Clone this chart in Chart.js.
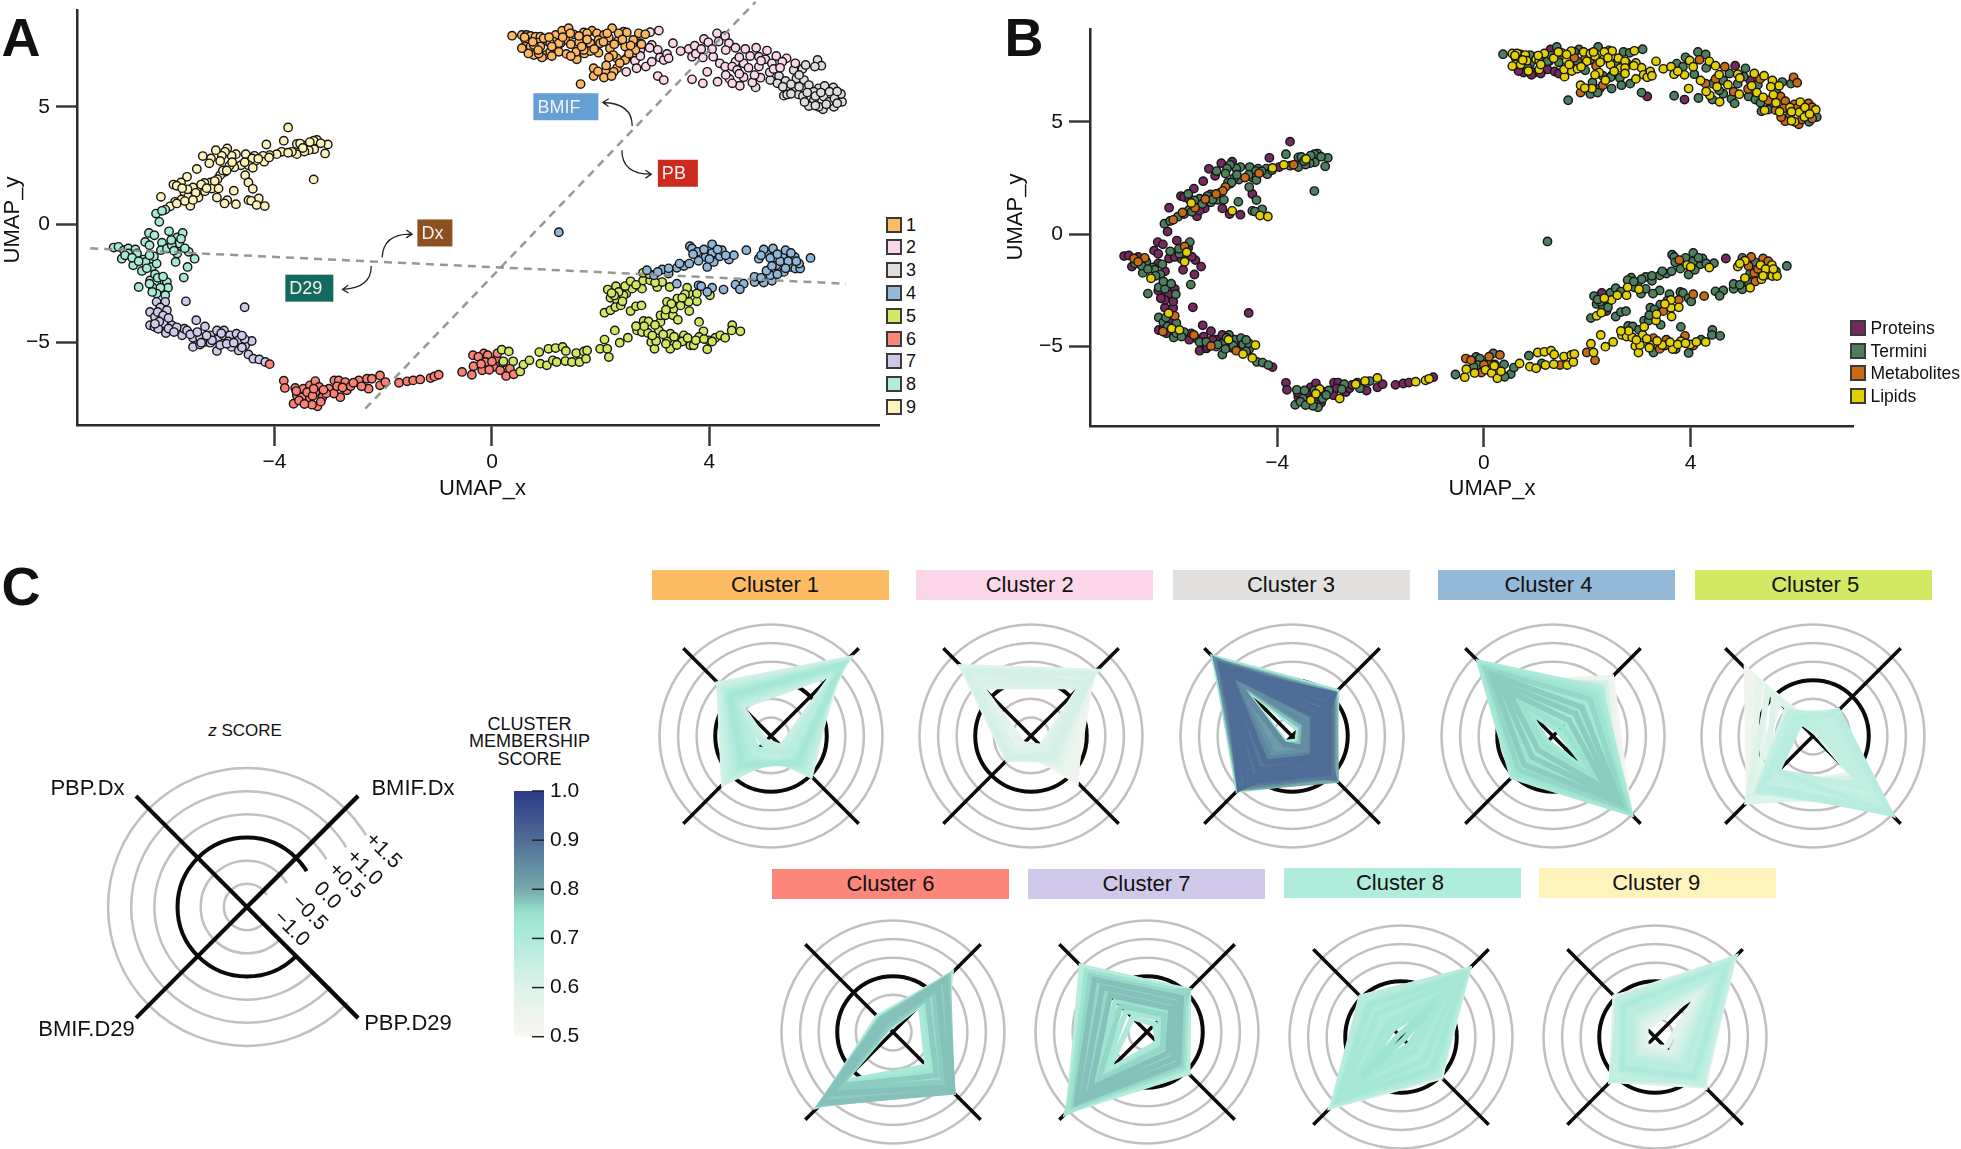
<!DOCTYPE html>
<html>
<head>
<meta charset="utf-8">
<title>UMAP clusters</title>
<script src="https://cdn.jsdelivr.net/npm/chart.js@4"></script>
<style>
  html, body { margin: 0; background: #fff; }
  body { position: relative; width: 1961px; height: 1149px; overflow: hidden; font-family: "Liberation Sans", Arial, sans-serif; color: #111; }
  canvas { position: absolute; }
  .txt { position: absolute; white-space: nowrap; transform: translate(-50%, -50%); }
  .swatch { position: absolute; box-sizing: border-box; width: 16px; height: 16px; border: 2.5px solid #3a3a3a; }
  .head { position: absolute; display: flex; align-items: center; justify-content: center; font-size: 22px; }
</style>
</head>
<body>
<script>
// every point: [UMAP_x, UMAP_y, omics type]  type: 0 Proteins, 1 Termini, 2 Metabolites, 3 Lipids
const cluster1 = [[0.37,8.01,1],[0.55,8.04,3],[0.64,8.04,3],[0.71,8.0,1],[0.61,7.86,3],[0.80,7.97,3],[0.89,7.97,1],[1.01,7.80,3],[1.17,8.04,3],[1.29,8.22,0],[1.41,8.33,1],[1.50,8.07,3],[1.69,8.15,3],[1.84,8.22,1],[1.93,8.11,3],[2.21,8.33,1],[2.06,8.04,3],[2.15,7.93,3],[2.42,8.18,1],[2.48,8.15,3],[2.70,8.11,1],[2.82,8.07,1],[2.60,7.83,3],[2.32,7.80,3],[1.96,7.83,2],[1.81,7.69,1],[1.60,7.73,3],[1.35,7.83,3],[1.13,7.76,1],[0.83,7.72,3],[0.61,7.55,3],[0.71,7.55,3],[0.55,7.48,3],[0.77,7.19,0],[0.98,7.19,0],[0.92,7.09,0],[1.07,7.33,3],[1.23,7.33,0],[1.37,7.24,0],[1.56,7.01,3],[1.55,7.33,3],[1.70,7.26,3],[1.81,7.36,3],[1.96,7.29,1],[2.17,7.48,2],[2.30,7.05,1],[2.45,7.55,3],[2.64,7.40,3],[2.47,7.05,0],[2.23,7.19,3],[2.15,7.09,3],[1.87,6.63,3],[2.09,6.48,3],[2.06,6.24,1],[1.87,6.30,2],[2.30,6.63,2],[2.24,6.48,1],[2.45,6.98,1],[1.63,5.96,1],[0.89,7.55,1],[1.07,7.69,3],[1.26,7.69,1],[1.44,8.11,3],[0.77,7.62,0],[1.75,8.11,1],[2.12,8.11,3],[2.33,8.11,3],[1.69,7.40,2],[1.99,7.69,3],[0.86,7.26,3],[0.67,7.26,0],[1.23,7.69,1],[2.75,7.65,2],[0.60,7.95,3],[0.75,7.75,3],[0.95,7.90,0],[1.05,7.95,3],[1.10,7.55,3],[1.30,7.95,1],[1.45,7.65,1],[1.60,8.0,3],[1.75,7.85,2],[1.88,7.45,3],[2.05,7.75,1],[2.25,7.65,3],[2.40,7.85,3],[2.55,7.60,1],[2.52,7.25,3],[0.85,7.40,1],[1.10,7.15,0],[1.45,7.15,0],[1.65,7.55,3],[2.10,6.75,1],[1.95,6.50,3],[2.20,6.30,1],[2.35,6.85,3]];
const cluster2 = [[3.07,8.23,1],[2.91,8.16,3],[2.73,7.69,3],[2.94,7.62,3],[3.05,7.41,3],[2.90,7.50,3],[2.73,7.40,3],[2.63,6.95,1],[2.73,7.15,3],[2.83,6.70,1],[2.94,6.91,3],[3.09,7.09,3],[3.16,6.98,3],[3.22,7.24,3],[3.33,7.69,3],[3.47,7.36,3],[3.62,7.45,3],[3.73,7.59,1],[3.90,7.87,1],[3.98,7.73,3],[4.14,8.11,1],[4.29,8.0,1],[4.17,7.76,2],[4.36,7.69,3],[4.48,7.50,3],[4.66,7.45,2],[4.86,7.50,0],[5.06,7.38,1],[4.91,7.12,3],[5.03,7.01,1],[5.23,7.15,3],[5.42,7.05,3],[5.58,6.84,3],[3.68,7.12,3],[3.88,7.09,3],[4.07,7.12,1],[4.19,6.84,3],[4.29,6.70,2],[4.48,6.91,2],[4.63,6.84,1],[4.42,6.70,1],[4.51,6.56,3],[4.91,6.70,1],[3.96,6.48,3],[4.63,6.25,1],[4.37,6.18,3],[4.56,5.89,3],[4.15,6.06,1],[3.88,5.99,0],[3.68,6.16,1],[4.42,5.99,1],[4.79,6.03,1],[4.94,6.23,3],[4.83,6.34,2],[5.11,6.46,2],[3.05,6.30,1],[3.16,6.13,0],[2.47,6.48,1],[2.66,6.63,1],[5.15,6.84,0],[5.34,6.91,2],[3.25,7.05,3],[3.75,7.25,3],[3.85,7.45,1],[4.05,7.45,3],[4.30,7.40,1],[4.55,7.10,3],[4.72,6.65,3],[4.30,6.35,3],[4.75,7.15,1],[4.95,6.95,3],[5.18,6.60,3],[5.30,6.65,1],[4.55,6.40,1]];
const cluster3 = [[5.99,6.98,2],[6.06,6.74,2],[5.94,6.70,1],[5.71,6.60,3],[5.77,6.77,1],[5.55,6.56,3],[5.28,6.30,3],[5.12,6.13,1],[5.40,6.09,3],[5.25,5.99,1],[5.60,6.20,3],[5.74,6.13,2],[5.83,5.92,2],[4.85,5.82,1],[5.56,5.74,1],[5.37,5.47,1],[5.43,5.52,3],[5.64,5.52,2],[5.72,5.45,3],[5.92,5.28,2],[5.83,5.03,2],[6.01,5.78,2],[6.10,5.43,3],[6.12,5.88,3],[6.28,5.82,2],[6.21,5.64,3],[6.29,5.0,1],[6.09,4.89,2],[6.01,5.0,3],[6.44,5.21,1],[6.42,5.54,3],[6.20,5.21,3],[5.92,5.64,3],[5.50,5.95,2],[5.65,5.85,3],[5.80,5.60,2],[5.95,5.45,3],[5.75,5.20,2],[5.95,5.05,3],[6.15,5.10,2],[6.30,5.35,3],[6.05,5.60,2],[6.35,5.65,2],[5.50,5.55,1],[5.35,5.85,1],[5.65,6.35,1],[6.35,5.15,2]];
const cluster4 = [[1.23,-0.32,1],[2.85,-1.93,1],[2.98,-2.14,1],[3.13,-1.90,1],[3.25,-2.07,1],[3.40,-1.83,1],[3.53,-1.75,1],[3.63,-1.65,1],[3.40,-2.50,1],[3.64,-0.91,1],[3.68,-1.01,1],[3.78,-1.15,2],[4.05,-0.83,1],[3.93,-1.37,3],[3.80,-1.53,1],[3.96,-1.79,1],[4.08,-1.58,1],[4.19,-1.34,1],[4.23,-1.08,1],[4.36,-1.48,3],[4.45,-1.29,1],[4.68,-1.08,0],[3.80,-2.57,1],[3.85,-2.61,1],[4.05,-2.67,2],[3.96,-2.85,1],[4.26,-2.75,2],[4.48,-2.54,1],[4.63,-2.50,1],[4.56,-2.74,1],[4.83,-2.43,1],[4.83,-2.21,1],[5.0,-2.45,1],[5.15,-2.38,3],[5.12,-2.14,1],[5.23,-1.72,2],[5.37,-2.0,3],[5.49,-1.79,3],[5.58,-1.86,3],[5.67,-1.86,3],[4.91,-1.44,3],[5.05,-1.18,3],[5.0,-1.05,1],[5.17,-1.01,2],[5.12,-1.41,2],[5.35,-1.37,3],[5.40,-1.08,2],[5.57,-1.37,3],[5.65,-1.65,1],[5.86,-1.41,1],[3.70,-1.25,1],[3.90,-1.05,1],[4.05,-1.20,1],[4.00,-1.45,3],[4.30,-1.30,1],[4.15,-1.05,1],[3.45,-1.65,1],[3.05,-2.00,1],[3.25,-1.85,1],[4.95,-2.25,1],[5.05,-1.95,3],[5.25,-2.10,2],[5.30,-1.55,2],[5.45,-1.55,3],[5.25,-1.25,1],[5.50,-1.20,2],[4.95,-1.30,3],[5.15,-1.75,1],[5.60,-1.55,3],[5.40,-1.85,3]];
const cluster5 = [[0.18,-5.30,1],[0.31,-5.37,2],[0.21,-5.79,3],[0.39,-5.79,1],[0.52,-6.22,1],[0.58,-5.93,1],[0.69,-5.75,3],[0.87,-5.40,1],[0.89,-5.89,3],[1.01,-5.96,3],[1.12,-5.75,1],[1.04,-5.26,3],[1.17,-5.23,3],[1.19,-5.82,3],[1.30,-5.18,3],[1.36,-5.35,3],[1.35,-5.78,3],[1.47,-5.82,2],[1.55,-5.44,3],[1.61,-5.82,3],[1.69,-5.37,3],[1.73,-5.68,3],[1.75,-5.33,3],[1.99,-5.26,2],[2.12,-5.26,3],[2.15,-5.61,2],[2.07,-4.87,3],[2.26,-4.48,3],[2.35,-5.0,3],[2.50,-4.79,3],[2.67,-4.48,3],[2.76,-4.55,3],[2.79,-4.08,1],[2.88,-4.10,1],[2.87,-4.59,3],[2.93,-4.97,3],[2.99,-5.26,3],[3.02,-4.93,3],[3.07,-4.48,3],[3.10,-4.12,3],[3.22,-4.93,3],[3.28,-4.62,2],[3.28,-5.26,1],[3.45,-4.93,3],[3.53,-4.69,2],[3.65,-5.11,3],[3.71,-5.11,1],[3.81,-4.12,1],[3.89,-4.52,2],[3.81,-4.76,3],[3.96,-5.28,1],[3.99,-4.90,3],[4.11,-4.79,3],[4.20,-4.69,1],[4.29,-4.79,3],[4.42,-4.26,1],[4.41,-4.48,1],[4.57,-4.52,1],[3.10,-3.84,1],[3.19,-3.84,1],[3.33,-3.84,3],[3.42,-4.03,1],[3.22,-3.27,1],[3.34,-3.56,3],[3.41,-3.13,1],[3.47,-3.42,2],[3.62,-3.27,3],[3.63,-3.66,3],[3.77,-3.25,3],[3.62,-2.92,3],[3.77,-2.92,2],[3.59,-2.67,1],[4.01,-2.99,1],[2.13,-2.75,1],[2.28,-2.61,0],[2.18,-3.10,1],[2.07,-3.73,1],[2.18,-3.63,3],[2.30,-3.20,1],[2.27,-3.49,3],[2.37,-3.42,0],[2.55,-3.66,1],[2.47,-2.92,3],[2.58,-2.71,3],[2.65,-3.46,1],[2.75,-3.42,1],[2.76,-2.71,3],[2.78,-2.36,3],[2.78,-2.04,1],[2.91,-2.36,1],[3.04,-2.64,1],[3.13,-2.43,1],[3.27,-2.64,1],[2.42,-2.99,1],[2.33,-2.85,3],[2.95,-4.70,3],[3.15,-4.65,3],[3.35,-4.75,3],[3.50,-4.95,2],[3.60,-4.80,3],[3.75,-4.90,3],[3.90,-4.85,3],[4.05,-4.95,2],[3.20,-5.05,3],[3.40,-5.10,2],[2.80,-4.30,3],[3.00,-4.25,1],[2.65,-4.30,3],[3.55,-2.95,1],[3.50,-3.10,3],[3.30,-3.35,1],[3.20,-3.60,1],[2.45,-2.60,1],[2.55,-2.40,1],[2.65,-2.55,1],[2.90,-2.10,1],[3.00,-2.45,3],[2.25,-3.00,1],[2.40,-3.25,1],[2.20,-2.90,1]];
const cluster6 = [[-4.09,-5.91,0],[-3.83,-6.61,0],[-3.81,-6.92,0],[-3.62,-6.92,1],[-3.65,-7.59,1],[-3.59,-7.23,0],[-3.50,-7.31,1],[-3.47,-6.95,1],[-3.35,-6.81,0],[-3.25,-6.63,0],[-3.18,-6.88,3],[-3.35,-7.38,3],[-3.21,-7.70,1],[-3.12,-7.31,1],[-3.31,-7.63,1],[-3.25,-7.09,3],[-3.0,-6.95,1],[-2.90,-6.60,0],[-2.79,-7.31,3],[-2.91,-7.16,0],[-2.82,-6.60,0],[-2.70,-6.67,1],[-2.67,-7.02,0],[-2.48,-6.67,3],[-2.45,-6.60,0],[-2.30,-6.53,3],[-2.21,-6.53,1],[-2.27,-6.95,0],[-2.06,-6.39,3],[-2.06,-6.81,0],[-1.96,-6.67,0],[-1.71,-6.70,0],[-1.56,-6.64,0],[-1.45,-6.60,0],[-1.32,-6.56,3],[-1.13,-6.50,3],[-1.06,-6.43,3],[-0.98,-6.36,0],[-0.55,-6.24,1],[-0.37,-6.36,3],[-0.35,-5.53,2],[-0.34,-6.0,3],[-0.18,-6.17,3],[-0.15,-5.46,1],[-0.08,-5.53,1],[-0.12,-5.82,1],[0.03,-6.03,3],[0.15,-6.17,3],[0.09,-5.68,2],[0.26,-6.41,3],[0.33,-6.10,3],[0.40,-6.34,1],[-3.55,-7.45,1],[-3.40,-7.10,0],[-3.30,-7.25,0],[-3.15,-7.50,0],[-3.05,-7.15,1],[-3.45,-7.60,1],[-3.60,-7.05,0],[-3.28,-6.95,1],[-3.10,-7.00,0],[-2.85,-6.85,0],[-2.60,-6.85,0],[-2.55,-6.70,0],[-2.40,-6.85,1],[-2.75,-6.90,1],[-0.25,-5.60,2],[-0.20,-5.90,1],[0.0,-5.80,2],[0.20,-5.85,3],[-0.05,-6.15,2],[0.10,-5.45,2]];
const cluster7 = [[-5.63,-3.25,0],[-4.55,-3.50,0],[-6.17,-3.27,0],[-6.01,-3.27,0],[-6.29,-3.70,1],[-6.10,-3.51,3],[-5.98,-3.63,2],[-6.20,-3.91,1],[-6.29,-4.26,0],[-6.21,-4.33,2],[-6.04,-4.19,3],[-5.89,-4.26,3],[-6.0,-4.59,1],[-6.14,-4.41,0],[-5.70,-4.69,0],[-5.66,-4.41,0],[-5.44,-4.05,0],[-5.28,-4.31,0],[-5.61,-4.48,2],[-5.50,-4.79,1],[-5.50,-5.18,0],[-5.37,-4.79,1],[-5.28,-4.97,2],[-5.18,-4.69,0],[-5.06,-5.35,1],[-5.06,-4.48,0],[-4.93,-4.48,1],[-5.05,-4.87,1],[-4.94,-4.69,3],[-4.82,-4.69,1],[-4.70,-4.62,1],[-4.79,-5.18,2],[-4.66,-4.90,1],[-4.54,-5.11,1],[-4.42,-4.93,3],[-4.66,-5.33,3],[-4.48,-5.50,3],[-4.39,-5.68,1],[-4.28,-5.71,1],[-4.17,-5.82,1],[-5.18,-5.0,1],[-5.37,-5.08,0],[-6.15,-3.70,1],[-6.05,-3.85,0],[-5.95,-3.95,1],[-6.12,-4.10,1],[-6.20,-4.20,0],[-5.95,-4.40,1],[-5.80,-4.35,1],[-5.85,-4.55,1],[-5.55,-4.65,0],[-5.42,-4.55,0],[-5.35,-5.00,0],[-5.15,-4.90,1],[-5.00,-5.10,1],[-4.85,-4.95,1],[-4.88,-5.05,0],[-4.60,-5.20,1],[-4.75,-5.00,0],[-4.55,-4.85,1],[-5.25,-4.70,0],[-4.98,-4.60,1],[-4.60,-4.70,1]];
const cluster8 = [[-6.96,-0.97,0],[-6.87,-0.94,0],[-6.77,-1.08,2],[-6.69,-1.01,0],[-6.56,-1.05,2],[-6.81,-1.44,0],[-6.69,-1.22,2],[-6.53,-1.22,1],[-6.60,-1.72,1],[-6.41,-1.48,1],[-6.44,-1.96,3],[-6.37,-1.58,1],[-6.26,-1.79,1],[-6.17,-1.65,0],[-6.22,-1.34,1],[-6.31,-0.35,0],[-6.21,-0.45,0],[-6.38,-0.73,0],[-6.30,-0.87,0],[-5.94,-0.28,0],[-6.07,-0.76,1],[-6.09,-1.08,0],[-5.98,-1.01,0],[-5.79,-0.54,2],[-5.69,-0.35,1],[-5.75,-0.80,3],[-5.89,-0.87,1],[-5.79,-1.22,3],[-5.58,-1.15,0],[-5.47,-1.44,0],[-5.82,-1.58,0],[-5.60,-1.79,0],[-5.67,-2.24,1],[-6.29,-2.36,1],[-5.98,-2.43,0],[-6.17,-2.43,1],[-6.50,-2.64,1],[-6.24,-2.67,0],[-5.96,-2.67,1],[-6.10,-2.67,0],[-6.17,-2.92,0],[-6.01,-2.99,0],[-6.18,0.47,1],[-6.01,0.64,2],[-6.12,0.12,0],[-6.07,0.59,1],[-6.75,-1.30,1],[-6.62,-1.40,1],[-6.50,-1.55,1],[-6.30,-1.30,0],[-6.35,-1.85,1],[-6.20,-2.10,1],[-6.15,-2.25,0],[-6.05,-2.20,1],[-6.30,-2.50,0],[-6.25,-2.85,0],[-5.90,-0.65,1],[-5.85,-1.10,0],[-5.65,-1.00,0],[-5.72,-0.60,0]];
const cluster9 = [[-3.75,4.12,0],[-3.83,3.56,1],[-4.15,3.40,0],[-3.22,3.59,1],[-3.28,3.56,1],[-3.02,3.40,1],[-3.07,3.02,1],[-3.44,3.35,3],[-3.59,3.42,1],[-3.53,3.44,1],[-3.27,3.20,1],[-3.37,3.16,1],[-3.59,2.99,1],[-3.68,3.09,2],[-3.87,3.09,3],[-3.96,2.99,0],[-4.09,2.95,3],[-4.21,2.92,1],[-4.19,2.67,1],[-4.37,2.92,1],[-4.53,2.99,1],[-4.35,2.71,2],[-4.41,2.81,1],[-4.48,2.52,1],[-4.40,2.41,1],[-4.62,2.52,2],[-4.74,2.43,1],[-4.83,2.50,1],[-4.71,2.99,1],[-4.79,2.92,1],[-4.87,3.23,0],[-4.91,3.09,1],[-4.97,2.92,1],[-5.08,3.16,0],[-5.17,2.81,1],[-5.32,2.91,0],[-5.20,2.60,0],[-5.43,2.36,0],[-4.91,2.24,1],[-5.0,2.10,2],[-5.05,1.93,2],[-5.18,1.79,2],[-5.29,1.77,1],[-5.39,1.56,2],[-5.50,1.58,1],[-5.61,2.03,0],[-5.72,1.79,1],[-5.86,1.70,0],[-5.80,1.65,0],[-5.66,1.39,3],[-5.59,1.18,2],[-5.40,1.15,0],[-5.28,1.42,1],[-5.15,1.53,1],[-5.03,1.53,1],[-5.06,1.15,0],[-4.87,1.04,3],[-4.92,0.90,0],[-4.71,0.87,0],[-4.75,1.44,1],[-4.54,2.10,1],[-4.48,1.79,0],[-4.40,1.52,1],[-4.29,1.11,1],[-4.48,1.04,1],[-4.43,1.01,1],[-4.33,0.83,3],[-4.18,0.79,3],[-3.28,1.92,1],[-6.09,1.18,0],[-5.83,0.97,2],[-5.71,1.07,1],[-5.55,0.80,0],[-5.60,1.50,1],[-5.70,1.55,0],[-5.45,1.35,1],[-5.35,1.70,1],[-5.25,1.55,1],[-5.10,1.85,1],[-4.95,2.30,1],[-4.88,2.30,1],[-4.78,2.65,1],[-4.55,2.65,1],[-4.30,2.80,1],[-4.10,2.85,1],[-3.75,3.05,1],[-3.45,3.10,1],[-3.35,3.50,1],[-3.48,3.25,1],[-3.15,3.45,1],[-5.92,0.78,1],[-5.80,0.90,1],[-5.65,1.00,1],[-5.50,1.05,0],[-5.00,2.70,1]];

const clusterNames = ["1", "2", "3", "4", "5", "6", "7", "8", "9"];
const clusterPoints = [cluster1, cluster2, cluster3, cluster4, cluster5, cluster6, cluster7, cluster8, cluster9];
const omicsNames = ["Proteins", "Termini", "Metabolites", "Lipids"];

const xTicks = [-4, 0, 4];
const yTicks = [-5, 0, 5];

// dashed dividers
const dividerDxX = [-7.39, 6.51], dividerDxY = [-1.0, -2.5];
const dividerBmX = [-2.33, 4.85], dividerBmY = [-7.8, 9.45];

const calloutNames = ["BMIF", "PB", "Dx", "D29"];
const calloutX = [1.36, 3.42, -1.05, -3.36];
const calloutY = [5.0, 2.18, -0.35, -2.69];

// radar axes, clockwise from upper right
const radarAxes = ["BMIF.Dx", "PBP.D29", "BMIF.D29", "PBP.Dx"];
const radarTicks = [-1.5, -1.0, -0.5, 0, 0.5, 1.0, 1.5];
const scoreTicks = [0.5, 0.6, 0.7, 0.8, 0.9, 1.0];

const radar1 = [[1.44,-0.95,0.30,0.48],[1.40,-0.90,0.20,0.40],[1.36,-0.80,0.05,0.30],[1.30,-0.70,-0.10,0.22],[1.25,-0.6,-0.25,0.14],[1.20,-0.5,-0.4,0.05],[1.15,-0.4,-0.55,-0.05],[1.10,-0.3,-0.7,-0.12],[1.05,-0.2,-0.85,-0.2],[1.0,-0.1,-0.95,-0.28],[0.95,0,-0.95,-0.35],[0.9,-1.1,-1.3,-0.38],[1.38,-1.0,-1.2,0.2],[1.1,-0.85,-1.0,0.0],[1.28,-0.35,-0.8,0.35],[1.2,-0.15,-0.9,0.48]];
const score1 = [.62,.64,.66,.68,.70,.72,.70,.69,.67,.66,.62,.64,.66,.68,.60,.58];
const radar2 = [[0.96,-0.95,-0.6,1.13],[0.9,-0.85,-0.7,1.05],[0.85,-0.7,-0.72,0.98],[0.78,-0.55,-0.8,.9],[.7,-.4,-.85,.82],[.62,-.25,-.92,.75],[.55,-.1,-1.0,.66],[.5,.05,-1.05,.58],[.45,.22,-1.1,.5],[.4,-1.1,-1.2,.42],[.38,-1.0,-.9,.38],[.6,-.6,-.62,.55],[.7,-.9,-.75,.7],[.9,-.3,-1.1,.9],[.8,.15,-1.15,1.0],[.5,-.8,-.65,.95]];
const score2 = [.58,.6,.62,.6,.58,.56,.55,.54,.52,.58,.6,.61,.6,.56,.54,.62];
const radar3 = [[.2,.15,.4,1.48],[.18,.1,.55,1.42],[.12,.18,.5,1.35],[.05,.05,.45,1.3],[0,.0,.35,1.25],[-.1,-.1,.25,1.2],[-.2,-.2,.15,1.15],[-.3,-.3,.05,1.1],[-.4,-.4,-.05,1.05],[-.5,-.5,-.2,1.0],[-.6,-.6,-.35,.95],[-.7,-.7,-.5,.9],[-.75,-.8,-.65,.85],[-.85,-.9,-.8,.75],[-.95,-1.0,-.95,.7],[.1,-.75,.5,1.0],[-.5,.1,-.1,.8],[-.3,-.8,.3,1.4],[-1.05,-1.1,-1.05,.68],[-1.15,-1.2,-1.15,.65],[-1.25,-1.3,-1.25,.62],[-1.0,-1.05,-1.2,.8]];
const score3 = [.72,.75,.8,.85,.88,.9,.88,.9,.87,.9,.88,.9,.86,.84,.82,.9,.88,.85,.82,.78,.72,.85];
const radar4 = [[.72,1.4,-.8,-.3],[.65,1.3,-.6,.0],[.55,1.2,-.5,.3],[.72,.9,-.2,.5],[.3,1.44,.05,1.3],[.15,1.42,.0,1.25],[.05,1.35,-.1,1.15],[-.1,1.25,-.2,1.05],[-.25,1.15,-.3,.95],[-.4,1.05,-.4,.85],[-.5,.95,-.55,.7],[-.65,.85,-.7,.55],[-.75,.7,-.8,.4],[-.9,.55,-.95,.2],[-1.0,.4,-1.05,.0],[-1.15,.2,-1.15,-.2],[-1.3,.0,-1.28,-.5],[.4,.6,-.3,1.0],[.5,1.0,-.9,.6]];
const score4 = [.52,.54,.56,.55,.7,.72,.74,.76,.72,.77,.74,.77,.72,.77,.72,.75,.72,.66,.62];
const radar5 = [[-.55,1.45,-.15,-.95],[-.6,1.45,.5,-.9],[-.65,1.4,.4,-.8],[-.7,1.3,.6,-.6],[-.8,1.2,.45,-.75],[-.9,1.05,.3,-.95],[-1.0,.9,.15,-1.0],[-1.1,.7,.0,-1.0],[-1.2,.5,-.15,-1.02],[-1.3,.3,.1,-.9],[-1.38,.1,.3,-.7],[-1.35,.7,1.0,.2],[-1.35,.5,.98,.5],[-1.35,.3,.95,.8],[-1.38,.1,.95,1.03],[-1.3,.0,.85,.9],[-1.3,.2,.75,.6],[-1.1,.9,.9,-.2],[-.55,.9,.1,-.7],[-1.38,-.05,.5,.3],[-1.3,.15,.25,.0],[-1.0,.5,.7,-.5]];
const score5 = [.68,.68,.68,.66,.66,.65,.66,.64,.66,.66,.62,.6,.56,.54,.53,.52,.57,.58,.6,.55,.6,.62];
const radar6 = [[.7,.2,.5,-.95],[.6,.75,1.25,-1.0],[.5,.78,1.2,-1.05],[.4,.7,1.1,-1.1],[.3,.65,.95,-1.15],[.2,.6,.85,-1.2],[.15,.5,.75,-1.15],[.05,.4,.7,-1.25],[-.1,.3,.6,-1.2],[-.2,.15,.55,-1.3],[-.3,.0,.5,-1.3],[-.45,-.2,.4,-1.35],[.3,.78,.35,-1.0],[.65,-.1,1.27,-1.1],[.6,.1,1.2,-.92],[.5,.72,.45,-1.2],[.0,.65,1.27,-1.0],[-.5,.4,.35,-.95]];
const score6 = [.66,.77,.78,.77,.77,.78,.76,.77,.75,.77,.73,.71,.68,.72,.68,.74,.66,.6];
const radar7 = [[.08,.05,1.5,.95],[.05,-.05,1.45,1.0],[0,-.1,1.4,.8],[-.1,-.2,1.3,.65],[-.2,-.3,1.2,.5],[-.3,-.4,1.1,.35],[-.4,-.5,.95,.2],[-.5,-.6,.8,.05],[-.6,-.7,.65,-.1],[-.7,-.8,.5,-.3],[-.85,-.9,.35,-.5],[-1.0,-1.0,.2,-.7],[-1.2,-1.1,0,-.95],[.06,-.7,1.2,-.1],[-.05,.0,.6,.6],[.05,-.4,1.55,.3],[-.3,.04,.1,.9],[-.6,-.2,1.5,.75]];
const score7 = [.68,.66,.74,.76,.78,.76,.78,.76,.78,.74,.76,.72,.7,.76,.6,.74,.55,.72];
const radar8 = [[1.05,-.05,1.1,.0],[1.0,-.1,1.05,-.1],[.95,-.2,.98,-.2],[.88,-.3,.9,-.3],[.8,-.4,.82,-.4],[.7,-.5,.75,-.5],[.6,-.6,.65,-.6],[.5,-.7,.55,-.7],[.4,-.8,.45,-.8],[.3,-.9,.35,-.9],[.15,-1.0,.25,-1.0],[.05,-1.1,.15,-1.1],[-.1,-1.2,.05,-1.2],[-.2,-1.4,.02,-1.42],[1.06,.0,.5,-.05],[.6,.02,1.14,-.5],[1.0,-.7,1.1,.02],[.4,.0,.8,.0]];
const score8 = [.68,.66,.7,.72,.7,.68,.72,.7,.68,.7,.72,.7,.72,.74,.6,.6,.58,.56];
const radar9 = [[1.5,.35,.15,.0],[1.45,.3,-.1,-.05],[1.4,.2,.1,-.1],[1.3,.1,-.2,-.2],[1.2,.0,-.3,-.3],[1.1,-.1,-.4,-.4],[1.0,-.2,-.5,-.5],[.9,-.35,-.6,-.6],[.8,-.5,-.7,-.7],[.65,-.6,-.8,-.8],[.5,-.75,-.95,-.9],[.35,-.9,-1.05,-1.0],[.2,-1.1,-1.15,-1.15],[1.5,-.4,.17,-.2],[1.35,.38,-.6,-.6],[.7,.4,-.3,.0],[1.0,-.8,.15,.02],[.3,.2,.1,-.3]];
const score9 = [.6,.65,.66,.68,.7,.68,.66,.68,.66,.64,.62,.6,.58,.66,.56,.53,.54,.52];
const radarSeries = [radar1, radar2, radar3, radar4, radar5, radar6, radar7, radar8, radar9];
const radarScores = [score1, score2, score3, score4, score5, score6, score7, score8, score9];

// styles and layout
const FONT = '"Liberation Sans", Arial, sans-serif';
const clusterColors = ["#fdb763", "#fbd6e8", "#dcdcdc", "#8fb6d9", "#cfe85f", "#fb8174", "#cfc8ea", "#a8e9d6", "#fdf3b8"];
const headColors = ["#fdbb63", "#fbd6e8", "#e1e0de", "#94b9d7", "#d3e964", "#fc8679", "#cfc8e9", "#afecdc", "#fdf3bb"];
const omicsColors = ["#74295f", "#4d7f5f", "#c96a14", "#e3d000"];
const calloutColors = ["#659fd3", "#cc2a1e", "#8c5120", "#136b60"];
const calloutW = [65, 40, 35, 48];
const scoreStops = [[0.5, "#fbf6f2"], [0.6, "#dcf3e9"], [0.7, "#aeeadb"], [0.75, "#9be3cf"], [0.8, "#76a9ac"], [0.9, "#4f6d96"], [1.0, "#2c3a87"]];

function text(str, x, y, size, extra) {
  const el = document.createElement("div");
  el.className = "txt";
  el.innerHTML = str;
  el.style.left = x + "px";
  el.style.top = y + "px";
  el.style.fontSize = size + "px";
  if (extra) el.style.cssText += extra;
  document.body.appendChild(el);
  return el;
}

function makeCanvas(left, top, w, h) {
  const c = document.createElement("canvas");
  c.width = w;
  c.height = h;
  c.style.left = left + "px";
  c.style.top = top + "px";
  document.body.appendChild(c);
  return c;
}

function hex(c) { return [1, 3, 5].map((i) => parseInt(c.substr(i, 2), 16)); }

function scoreColor(s) {
  for (let i = 1; i < scoreStops.length; i++) {
    if (s <= scoreStops[i][0]) {
      const a = scoreStops[i - 1], b = scoreStops[i];
      const t = (s - a[0]) / (b[0] - a[0]);
      const ca = hex(a[1]), cb = hex(b[1]);
      return "rgb(" + ca.map((v, k) => Math.round(v + (cb[k] - v) * t)).join(",") + ")";
    }
  }
  return scoreStops[scoreStops.length - 1][1];
}

function toXY(p) { return { x: p[0], y: p[1] }; }
function zip(xs, ys) { return xs.map((x, i) => ({ x: x, y: ys[i] })); }
function minusSign(v) { return String(v).replace("-", "\u2212"); }

function umapScales(xr, yr, yWidth, xHeight) {
  return {
    x: {
      type: "linear", min: xr[0], max: xr[1],
      afterBuildTicks: (s) => { s.ticks = xTicks.map((v) => ({ value: v })); },
      afterFit: (s) => { s.height = xHeight; },
      border: { color: "#2b2b2b", width: 2.5 },
      grid: { drawOnChartArea: false, tickLength: 21, tickColor: "#3a3a3a", tickWidth: 2.5, color: "#3a3a3a" },
      ticks: { padding: 4, maxRotation: 0, autoSkip: false, color: "#111", font: { family: FONT, size: 21 }, callback: minusSign }
    },
    y: {
      type: "linear", min: yr[0], max: yr[1],
      afterBuildTicks: (s) => { s.ticks = yTicks.map((v) => ({ value: v })); },
      afterFit: (s) => { s.width = yWidth; },
      border: { color: "#2b2b2b", width: 2.5 },
      grid: { drawOnChartArea: false, tickLength: 21, tickColor: "#3a3a3a", tickWidth: 2.5, color: "#3a3a3a" },
      ticks: { padding: 6, autoSkip: false, color: "#111", font: { family: FONT, size: 21 }, callback: minusSign }
    }
  };
}

function pointSet(data, color) {
  return {
    data: data, showLine: false,
    backgroundColor: color, borderColor: "#151515", borderWidth: 1.4,
    pointRadius: 4.2, pointHoverRadius: 4.2
  };
}

function dividerSet(data) {
  return {
    data: data, showLine: true, pointRadius: 0, clip: false,
    borderColor: "rgba(140,140,140,0.9)", borderWidth: 2.5, borderDash: [8, 6], tension: 0
  };
}

// callout boxes and curved arrows, given in UMAP units
const arrowPaths = [
  [-2.02, -1.39, -2.0, -0.36, -1.47, -0.40],
  [-2.22, -1.75, -2.22, -2.69, -2.75, -2.74],
  [2.58, 4.18, 2.58, 5.15, 2.04, 5.18],
  [2.39, 3.16, 2.39, 2.14, 2.93, 2.14]
];
const calloutPlugin = {
  id: "callouts",
  afterDatasetsDraw(chart) {
    const g = chart.ctx, sx = chart.scales.x, sy = chart.scales.y;
    g.save();
    g.strokeStyle = "#222";
    g.lineWidth = 1.3;
    arrowPaths.forEach((a) => {
      const x0 = sx.getPixelForValue(a[0]), y0 = sy.getPixelForValue(a[1]);
      const cx = sx.getPixelForValue(a[2]), cy = sy.getPixelForValue(a[3]);
      const x1 = sx.getPixelForValue(a[4]), y1 = sy.getPixelForValue(a[5]);
      g.beginPath();
      g.moveTo(x0, y0);
      g.quadraticCurveTo(cx, cy, x1, y1);
      const ang = Math.atan2(y1 - cy, x1 - cx);
      g.moveTo(x1 - 7 * Math.cos(ang - 0.6), y1 - 7 * Math.sin(ang - 0.6));
      g.lineTo(x1, y1);
      g.lineTo(x1 - 7 * Math.cos(ang + 0.6), y1 - 7 * Math.sin(ang + 0.6));
      g.stroke();
    });
    g.font = "18px " + FONT;
    g.textBaseline = "middle";
    g.textAlign = "left";
    calloutNames.forEach((name, i) => {
      const x = sx.getPixelForValue(calloutX[i]), y = sy.getPixelForValue(calloutY[i]);
      g.fillStyle = calloutColors[i];
      g.fillRect(x - calloutW[i] / 2, y - 13.5, calloutW[i], 27);
      g.fillStyle = "#f2f2f2";
      g.fillText(name, x - calloutW[i] / 2 + 4, y + 1);
    });
    g.restore();
  }
};

// panel A, ticks.padding plus half a label height sets the smallest top margin Chart.js allows
const datasetsA = [dividerSet(zip(dividerDxX, dividerDxY)), dividerSet(zip(dividerBmX, dividerBmY))];
clusterPoints.forEach((pts, i) => datasetsA.push(pointSet(pts.map(toXY), clusterColors[i])));
new Chart(makeCanvas(0, -10, 885, 510), {
  type: "scatter",
  data: { datasets: datasetsA },
  plugins: [calloutPlugin],
  options: {
    responsive: false, animation: false, events: [],
    layout: { padding: { top: 20, right: 6, left: 0, bottom: 0 } },
    plugins: { legend: { display: false }, tooltip: { enabled: false } },
    scales: umapScales([-7.634, 7.12], [-8.49, 9.1], 77, 75)
  }
});

// panel B, lipids end up on top because the first dataset is drawn last
const allPoints = clusterPoints.flat();
const datasetsB = [3, 2, 1, 0].map((t) => pointSet(allPoints.filter((p) => p[2] === t).map(toXY), omicsColors[t]));
new Chart(makeCanvas(1000, 0, 860, 500), {
  type: "scatter",
  data: { datasets: datasetsB },
  options: {
    responsive: false, animation: false, events: [],
    layout: { padding: { top: 29, right: 7, left: 0, bottom: 0 } },
    plugins: { legend: { display: false }, tooltip: { enabled: false } },
    scales: umapScales([-7.62, 7.14], [-8.53, 9.13], 90, 74)
  }
});

// radars
function radarOptions(maxValue, ringWidth, spokeWidth) {
  return {
    responsive: false, animation: false, events: [],
    layout: { padding: 0 },
    plugins: { legend: { display: false }, tooltip: { enabled: false } },
    elements: { point: { radius: 0 }, line: { tension: 0, fill: false } },
    scales: {
      r: {
        min: -1.5, max: maxValue, startAngle: 45,
        afterBuildTicks: (s) => { s.ticks = radarTicks.map((v) => ({ value: v })); },
        pointLabels: { display: false },
        ticks: { display: false },
        angleLines: { color: "#0a0a0a", lineWidth: spokeWidth },
        grid: {
          circular: true,
          color: (c) => (c.tick && c.tick.value === 0 ? "#0a0a0a" : "#c0c0c0"),
          lineWidth: (c) => (c.tick && c.tick.value === 0 ? ringWidth : 2.5)
        }
      }
    }
  };
}

const radarCenterX = [770.5, 1030.6, 1292, 1552.5, 1812.6, 893.4, 1147, 1401, 1654.6];
const radarCenterY = [735.7, 735.7, 735.7, 735.7, 735.7, 1031.7, 1032, 1036.7, 1036.7];
const headLeft = [652, 916, 1172.5, 1437.5, 1695, 772, 1028, 1284, 1539];
const headTop = [570, 570, 570, 570, 570, 869, 869, 868, 868];
const headShift = [4.6, -4.8, 0, -7.6, 1.7, 0, 0, -2.6, -1.3];

radarSeries.forEach((polys, i) => {
  const R = 124;
  const sets = polys.map((vals, k) => ({
    data: vals, borderColor: scoreColor(radarScores[i][k]), borderWidth: 5.5,
    borderJoinStyle: "miter", order: radarScores[i][k] * -1
  }));
  new Chart(makeCanvas(Math.round(radarCenterX[i] - R), Math.round(radarCenterY[i] - R), R * 2, R * 2), {
    type: "radar",
    data: { labels: radarAxes, datasets: sets },
    options: radarOptions(1.836, 4, 3.5)
  });
  const h = document.createElement("div");
  h.className = "head";
  h.innerHTML = '<span style="position:relative;left:' + headShift[i] + 'px">Cluster ' + clusterNames[i] + "</span>";
  h.style.cssText += "left:" + headLeft[i] + "px;top:" + headTop[i] + "px;width:237px;height:30px;background:" + headColors[i];
  document.body.appendChild(h);
});

// key radar, its rings stay open on the right where the z score labels sit
const keyGap = {
  id: "keyGap",
  beforeDatasetsDraw(chart) {
    const g = chart.ctx, r = chart.scales.r;
    const a0 = -31 * Math.PI / 180, a1 = 43.5 * Math.PI / 180;
    g.save();
    g.fillStyle = "#fff";
    g.beginPath();
    g.moveTo(r.xCenter, r.yCenter);
    g.arc(r.xCenter, r.yCenter, r.drawingArea - 14, a0, a1);
    g.closePath();
    g.fill();
    g.strokeStyle = "#0a0a0a";
    g.lineWidth = 4;
    const end = r.getPointPosition(1, r.drawingArea);
    const end2 = r.getPointPosition(0, r.drawingArea);
    g.beginPath();
    g.moveTo(r.xCenter, r.yCenter);
    g.lineTo(end.x, end.y);
    g.moveTo(r.xCenter, r.yCenter);
    g.lineTo(end2.x, end2.y);
    g.stroke();
    g.restore();
  }
};
new Chart(makeCanvas(247 - 157, 907 - 157, 314, 314), {
  type: "radar",
  data: { labels: radarAxes, datasets: [{ data: [], borderWidth: 0 }] },
  plugins: [keyGap],
  options: radarOptions(1.89, 4, 4)
});

// colour bar
const barTicks = {
  id: "barTicks",
  afterDatasetsDraw(chart) {
    const g = chart.ctx, s = chart.scales.y, a = chart.chartArea;
    g.save();
    g.strokeStyle = "#222";
    g.lineWidth = 1.5;
    scoreTicks.forEach((v) => {
      const y = s.getPixelForValue(v);
      g.beginPath();
      g.moveTo(a.right - 12, y);
      g.lineTo(a.right, y);
      g.stroke();
    });
    g.restore();
  }
};
new Chart(makeCanvas(500, 771, 100, 285), {
  type: "bar",
  data: {
    labels: ["score"],
    datasets: [{
      data: [[0.5, 1.0]],
      categoryPercentage: 1, barPercentage: 1,
      backgroundColor: (c) => {
        const a = c.chart.chartArea;
        if (!a) return "#fff";
        const grad = c.chart.ctx.createLinearGradient(0, a.bottom, 0, a.top);
        scoreStops.forEach((st) => grad.addColorStop((st[0] - 0.5) / 0.5, st[1]));
        return grad;
      }
    }]
  },
  plugins: [barTicks],
  options: {
    responsive: false, animation: false, events: [],
    layout: { padding: { left: 14, top: 20, bottom: 19.3, right: 0 } },
    plugins: { legend: { display: false }, tooltip: { enabled: false } },
    scales: {
      x: { display: false },
      y: {
        position: "right", min: 0.5, max: 1.0,
        afterBuildTicks: (s) => { s.ticks = scoreTicks.map((v) => ({ value: v })); },
        afterFit: (s) => { s.width = 56; },
        border: { display: false },
        grid: { display: false, drawTicks: false },
        ticks: { padding: 6, color: "#111", autoSkip: false, font: { family: FONT, size: 21 }, callback: (v) => Number(v).toFixed(1) }
      }
    }
  }
});

// text around the charts
text("A", 21, 37, 54, "font-weight:700");
text("B", 1024, 37, 54, "font-weight:700");
text("C", 21, 586, 54, "font-weight:700");

text("UMAP_x", 482.5, 488, 22);
text("UMAP_y", 12, 220, 22, "transform:translate(-50%,-50%) rotate(-90deg)");
text("UMAP_x", 1492, 488, 22);
text("UMAP_y", 1015, 217, 22, "transform:translate(-50%,-50%) rotate(-90deg)");

clusterNames.forEach((name, i) => {
  const y = 224.5 + i * 22.8;
  const sw = document.createElement("div");
  sw.className = "swatch";
  sw.style.cssText += "left:885.5px;top:" + (y - 8) + "px;background:" + headColors[i];
  document.body.appendChild(sw);
  text(name, 911, y, 18);
});
omicsNames.forEach((name, i) => {
  const y = 328 + i * 22.6;
  const sw = document.createElement("div");
  sw.className = "swatch";
  sw.style.cssText += "left:1849.5px;top:" + (y - 8) + "px;background:" + omicsColors[i];
  document.body.appendChild(sw);
  text(name, 1870.5, y, 17.5, "transform:translate(0,-50%)");
});

text("<i>z</i> SCORE", 245, 731, 17);
text("CLUSTER", 529.5, 724, 18);
text("MEMBERSHIP", 529.5, 741, 18);
text("SCORE", 529.5, 759, 18);
text("PBP.Dx", 87.5, 788, 22);
text("BMIF.Dx", 413, 788, 22);
text("BMIF.D29", 86.5, 1029, 22);
text("PBP.D29", 408, 1023, 22);

const zLabels = ["+1.5", "+1.0", "+0.5", "0.0", "\u22120.5", "\u22121.0"];
const zLabelX = [383.7, 365.3, 347, 327.8, 310, 292];
const zLabelY = [850, 866.7, 880, 895, 911.7, 928];
zLabels.forEach((s, i) => {
  text(s, zLabelX[i], zLabelY[i], 21, "transform:translate(-50%,-50%) rotate(45deg)");
});
</script>
</body>
</html>
